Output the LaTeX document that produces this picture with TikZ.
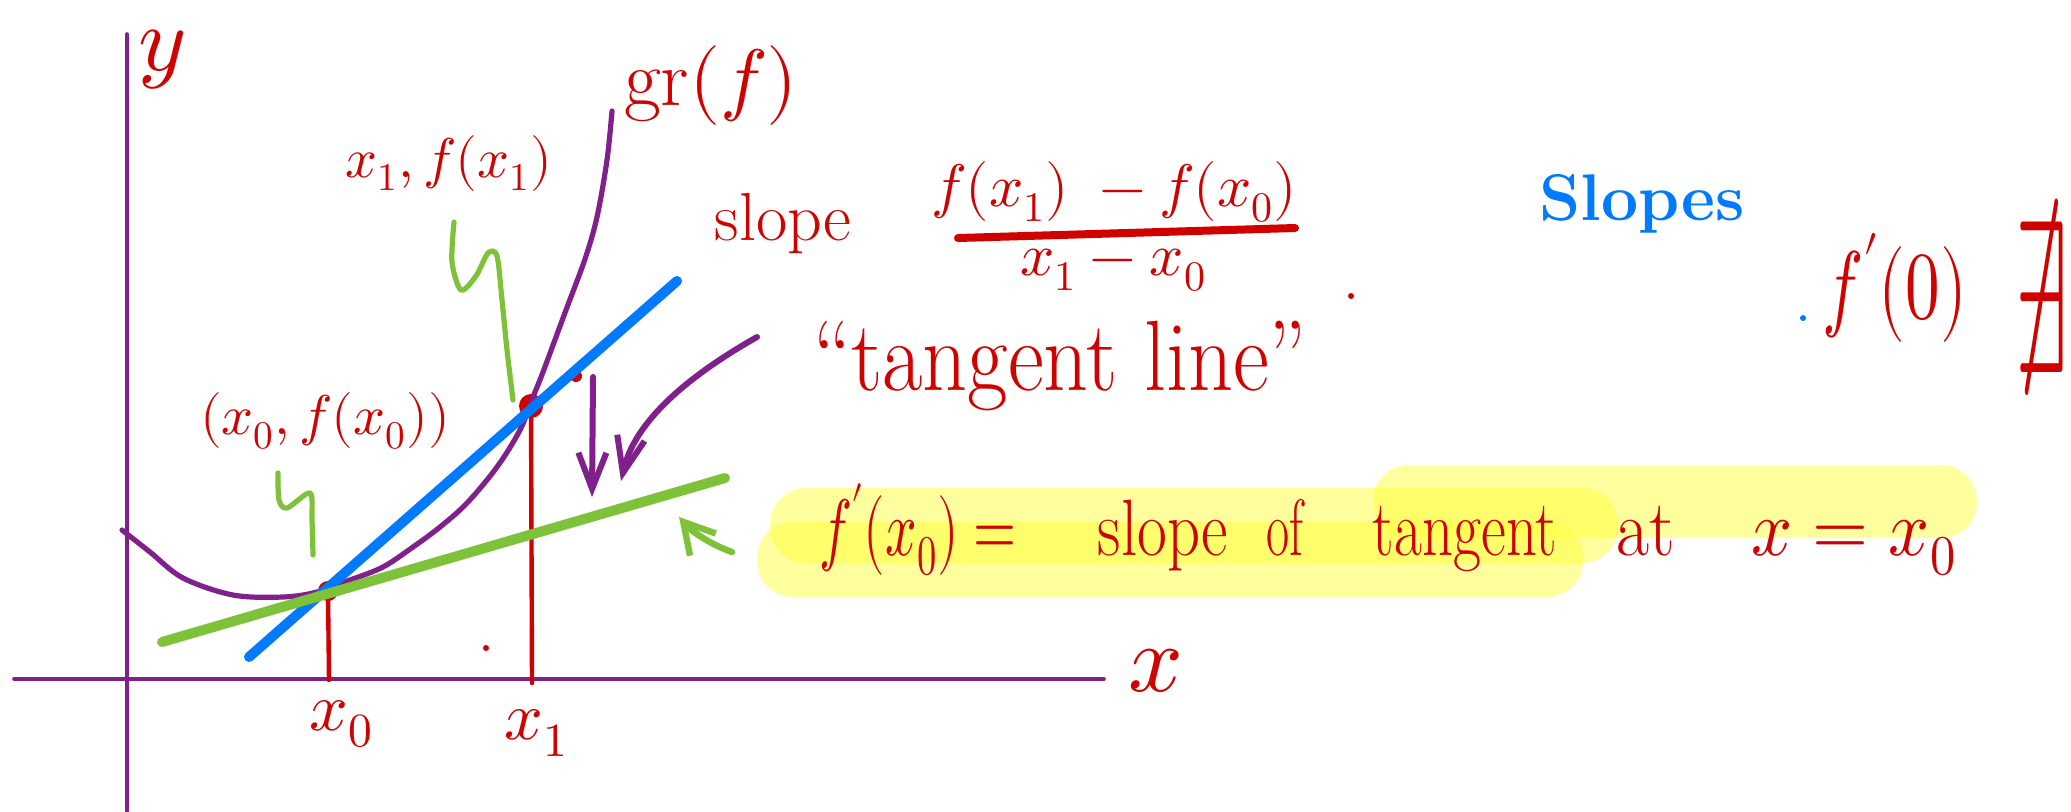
\documentclass[tikz,border=0pt]{standalone}
\usepackage{unicode-math}
\usetikzlibrary{arrows.meta}
\definecolor{inkred}{RGB}{208,2,0}
\definecolor{inkpurple}{RGB}{128,32,140}
\definecolor{inkblue}{RGB}{0,122,255}
\definecolor{inkgreen}{RGB}{125,194,56}
\definecolor{hlyellow}{RGB}{255,255,60}
\newcommand\fsz[1]{\fontsize{#1}{#1}\selectfont}
\newcommand\hx[2]{\scalebox{#1}[1]{#2}}
\begin{document}
\begin{tikzpicture}[x=0.5pt,y=-0.5pt,line cap=round,line join=round,
  lab/.style={text=inkred,inner sep=0pt},
  hword/.style={lab,anchor=base,font=\fsz{40}},
  axis/.style={draw=inkpurple,line width=1.8pt},
  curve/.style={draw=inkpurple,line width=2.6pt},
  redline/.style={draw=inkred,line width=2.2pt},
  squig/.style={draw=inkgreen,line width=2.6pt},
  speck/.style={inner sep=0pt,minimum size=3pt,circle},
  parrow/.style={draw=inkpurple,line width=3pt,-{Straight Barb[length=18pt,width=14pt,line width=3pt]}},
  garrow/.style={draw=inkgreen,line width=3.2pt,-{Straight Barb[length=15pt,width=17pt,line width=3.2pt]}},
  hl/.style={fill=hlyellow,fill opacity=0.5,rounded corners=18pt}]
\useasboundingbox (0,0) rectangle (2071,811);
% highlights
\fill[hl] (770,488) rectangle (1618,563);
\fill[hl] (757,522) rectangle (1583,597);
\fill[hl] (1373,465) rectangle (1977,538);
% axes
\coordinate (yb) at (127,811);
\coordinate (yt) at (127,34);
\coordinate (xl) at (14,679);
\coordinate (xr) at (1104,679);
\draw[axis] (yb) -- (yt);
\draw[axis] (xl) -- (xr);
% points and red verticals
\coordinate (P0) at (328,591);
\coordinate (P1) at (531,406);
\coordinate (X0) at (329,680);
\coordinate (X1) at (532,683);
\draw[redline] (P0) -- (X0);
\draw[redline] (P1) -- (X1);
\fill[inkred] (P0) circle (5pt);
\fill[inkred] (P1) circle (6pt);
\node[speck,fill=inkred,minimum size=6pt] (s1) at (576,376) {};
\node[speck,fill=inkred] (s2) at (486,648) {};
% graph of f
\draw[curve] plot[smooth,tension=0.55] coordinates {(122,530) (150,552) (183,578) (233,595) (283,597) (317,592) (350,580) (383,567) (413,547) (440,527) (467,503) (497,467) (520,430) (533,397) (543,372) (566,310) (585,259) (597,217) (607,160) (612,111)};
% secant (blue) and tangent (green)
\coordinate (B1) at (249,657);
\coordinate (B2) at (677,281);
\draw[draw=inkblue,line width=5pt] (B1) -- (B2);
\coordinate (G1) at (162,642);
\coordinate (G2) at (725,478);
\draw[draw=inkgreen,line width=5pt] (G1) -- (G2);
% green squiggles
\draw[squig] plot[smooth,tension=0.5] coordinates {(454,222) (452,262) (461,290) (476,276) (488,253) (497,256) (502,300) (507,350) (513,400)};
\draw[squig] plot[smooth,tension=0.5] coordinates {(278,473) (279,500) (287,508) (310,493) (312,520) (313,555)};
% purple arrows
\coordinate (A1s) at (593,377);
\coordinate (A1e) at (592,497);
\draw[parrow] (A1s) -- (A1e);
\coordinate (A2s) at (757,337);
\coordinate (A2e) at (621,481);
\draw[parrow] (A2s) .. controls (690,375) and (635,420) .. (A2e);
% green arrow
\coordinate (A3s) at (732,552);
\coordinate (A3e) at (679,517);
\draw[garrow] (A3s) .. controls (712,545) and (692,532) .. (A3e);
% labels
\node[lab,font=\fsz{46}] (ylab) at (162,60) {$y$};
\node[lab,font=\fsz{48}] (xlab) at (1156,671) {$x$};
\node[lab,font=\fsz{34}] (x0lab) at (341,724) {$x_0$};
\node[lab,font=\fsz{34}] (x1lab) at (536,733) {$x_1$};
\node[lab,font=\fsz{40}] (grf) at (711,85) {gr$(f)$};
\node[lab,font=\fsz{28}] (p1lab) at (449,163) {$x_1, f(x_1)$};
\node[lab,font=\fsz{28}] (p0lab) at (325,421) {$(x_0,f(x_0))$};
\node[lab,font=\fsz{34},anchor=base] (slope) at (783,240) {slope};
\node[lab,font=\fsz{30}] (num) at (1114,192) {$f(x_1)\;-f(x_0)$};
\node[lab,font=\fsz{30}] (den) at (1113,270) {$x_1-x_0$};
\draw[draw=inkred,line width=4pt] (958,238) -- (1295,228);
\node[lab,font=\fsz{50},anchor=base] (tline) at (1060,390) {\hx{0.88}{``tangent line''}};
\node[speck,fill=inkred] (s3) at (1351,296) {};
\node[lab,font=\fsz{33},anchor=base,text=inkblue] (slopes) at (1642,220) {\bfseries Slopes};
\node[speck,fill=inkblue] (s4) at (1803,318) {};
\node[lab,font=\fsz{48},anchor=base] (fp0) at (1895,318) {\hx{0.72}{$f'(0)$}};
\node[lab,font=\fsz{50}] (nex) at (2042,297) {\scalebox{0.95}[2.2]{$\nexists$}};
% highlighted statement
\node[hword] (w1) at (918,555) {\hx{0.69}{$f'(x_0)=$}};
\node[hword] (w2) at (1163,555) {\hx{0.81}{slope}};
\node[hword] (w3) at (1285,555) {\hx{0.63}{of}};
\node[hword] (w4) at (1465,555) {\hx{0.76}{tangent}};
\node[hword] (w5) at (1646,555) {\hx{0.9}{at}};
\node[hword] (w6) at (1854,555) {\hx{0.9}{$x=x_0$}};
\end{tikzpicture}
\end{document}
